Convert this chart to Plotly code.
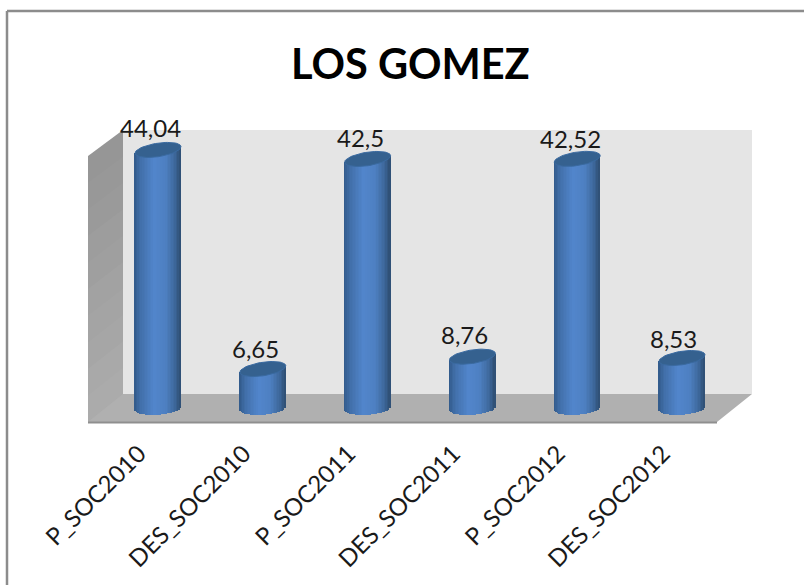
import numpy as np
import plotly.graph_objects as go

categories = ["P_SOC2010", "DES_SOC2010", "P_SOC2011", "DES_SOC2011", "P_SOC2012", "DES_SOC2012"]
values = [44.04, 6.65, 42.5, 8.76, 42.52, 8.53]
value_labels = ["44,04", "6,65", "42,5", "8,76", "42,52", "8,53"]
title_text = "LOS GOMEZ"

# Label nudges in pixels (style only)
label_dx = [-8, -7, -7, -8, -7, -9]
label_dy = [22, 21, 21, 22, 20, 20]

W, H = 804, 585
L, R, T, B = 88, 752, 100, 422   # plot area in pixels
CX0, STEP = 158.0, 104.8         # first cylinder centre and spacing
Y0, PX_PER = 408.0, 5.86         # zero line and scale

x_range = [(L - CX0) / STEP, (R - CX0) / STEP]
y_range = [(Y0 - B) / PX_PER, (Y0 - T) / PX_PER]

HALF_W = 23.0 / STEP      # cylinder half width (x units)
RY = 6.8 / PX_PER         # ellipse half height (y units)
TILT_TOP = 3.2 / PX_PER   # cap tilt, rising to the right
TILT_BASE = 1.5 / PX_PER  # base tilt


def shade(u):
    """Horizontal cylinder shading for u in [-1, 1]."""
    stops = [(-1.0, (50, 90, 138)), (-0.72, (66, 112, 170)), (-0.15, (82, 134, 204)),
             (0.35, (78, 128, 194)), (0.75, (62, 104, 156)), (1.0, (46, 78, 114))]
    us = [s[0] for s in stops]
    rgb = [int(np.interp(u, us, [s[1][k] for s in stops])) for k in range(3)]
    return f"rgb({rgb[0]},{rgb[1]},{rgb[2]})"


def px(x_px, y_px):
    return (x_px - L) / (R - L), (B - y_px) / (B - T)


def poly(points):
    pts = [px(*p) for p in points]
    return "M " + " L ".join(f"{a:.5f},{b:.5f}" for a, b in pts) + " Z"


fig = go.Figure()

# One Bar trace per vertical shading strip of the cylinders
n_strips = 30
strip_w = 2 * HALF_W / n_strips
positions = np.arange(len(values))
vals = np.array(values)
for s in range(n_strips):
    u = -1 + (s + 0.5) * 2 / n_strips
    base = -RY * np.sqrt(1 - u * u) + TILT_BASE * u
    top = vals + TILT_TOP * u
    fig.add_trace(go.Bar(
        x=positions + HALF_W * u, y=top - base, base=[base] * len(vals),
        width=strip_w * 1.25, marker=dict(color=shade(u), line=dict(width=0)),
        hoverinfo="skip", showlegend=False,
    ))

# Top caps of the cylinders
t = np.linspace(0, 2 * np.pi, 61)
for i, v in enumerate(values):
    fig.add_trace(go.Scatter(
        x=i + HALF_W * np.cos(t), y=v + RY * np.sin(t) + TILT_TOP * np.cos(t),
        mode="lines", fill="toself", fillcolor="#35618f",
        line=dict(color="#3a6aa0", width=1), hoverinfo="skip", showlegend=False,
    ))

shapes = []
# chart frame
for xa, ya, xb, yb in [(7, 585, 7, 11), (7, 11, 804, 11)]:
    a, b = px(xa, ya), px(xb, yb)
    shapes.append(dict(type="line", xref="paper", yref="paper", x0=a[0], y0=a[1], x1=b[0], y1=b[1],
                       line=dict(color="#8c8c8c", width=2.5), layer="below"))
# back wall, side wall, floor
shapes.append(dict(type="path", xref="paper", yref="paper", layer="below",
                   path=poly([(123, 130), (752, 130), (752, 394), (123, 394)]),
                   fillcolor="#e5e5e5", line=dict(width=0)))
bands = 10
for k in range(bands):
    f0, f1 = k / bands, (k + 1) / bands + 0.005
    xl, xr = 88, 123
    ya0, ya1 = 156 + (422 - 156) * f0, 156 + (422 - 156) * f1
    yb0, yb1 = 130 + (394 - 130) * f0, 130 + (394 - 130) * f1
    g = int(150 + 24 * f0)
    shapes.append(dict(type="path", xref="paper", yref="paper", layer="below",
                       path=poly([(xl, ya0), (xr, yb0), (xr, yb1), (xl, ya1)]),
                       fillcolor=f"rgb({g},{g},{g})", line=dict(width=0)))
shapes.append(dict(type="path", xref="paper", yref="paper", layer="below",
                   path=poly([(88, 422), (123, 394), (752, 394), (717, 422)]),
                   fillcolor="#b0b0b0", line=dict(width=0)))
a, b = px(88, 422.5), px(717, 422.5)
shapes.append(dict(type="line", xref="paper", yref="paper", x0=a[0], y0=a[1], x1=b[0], y1=b[1],
                   line=dict(color="#8f8f8f", width=2), layer="below"))

annotations = [
    dict(x=i, y=v, xref="x", yref="y", text=lab, showarrow=False, xanchor="center", yanchor="middle",
         xshift=label_dx[i], yshift=label_dy[i],
         font=dict(family="Lato, Carlito, sans-serif", size=24, color="#1a1a1a"))
    for i, (v, lab) in enumerate(zip(values, value_labels))
]
tx, ty = px(410, 63)
annotations.append(dict(x=tx, y=ty, xref="paper", yref="paper", text=f"<b>{title_text}</b>", showarrow=False,
                        xanchor="center", yanchor="middle",
                        font=dict(family="Lato, Carlito, sans-serif", size=41.5, color="#000000")))

fig.update_layout(
    width=W, height=H, autosize=False,
    margin=dict(l=L, r=W - R, t=T, b=H - B, pad=0),
    paper_bgcolor="white", plot_bgcolor="rgba(0,0,0,0)",
    barmode="overlay", bargap=0, showlegend=False,
    shapes=shapes, annotations=annotations,
    xaxis=dict(range=x_range, tickmode="array", tickvals=list(positions), ticktext=categories,
               tickangle=-45, showgrid=False, zeroline=False, showline=False, ticks="",
               tickfont=dict(family="Lato, Carlito, sans-serif", size=24, color="#1a1a1a"),
               ticklabelstandoff=12, ticklabelshift=-19),
    yaxis=dict(range=y_range, visible=False, showgrid=False, zeroline=False),
)
fig.write_html("out.html", config=dict(displayModeBar=False),
               post_script="document.body.style.margin='0';document.documentElement.style.overflow='hidden';")
